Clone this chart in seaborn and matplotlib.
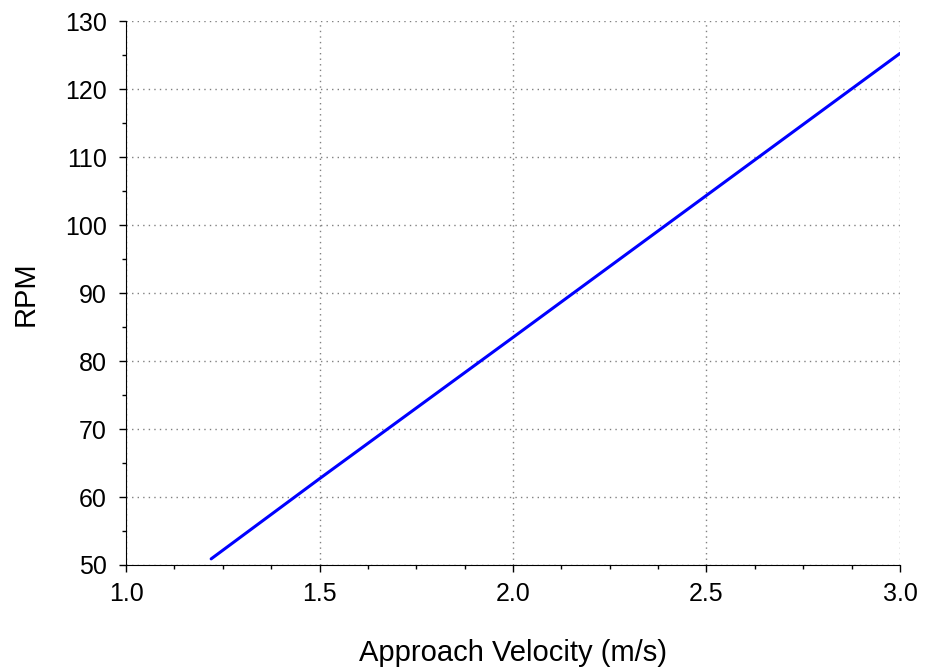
import pandas as pd
import numpy as np
import seaborn as sns
import matplotlib.pyplot as plt
from matplotlib.ticker import MultipleLocator

velocity=[1.22,1.5,2.0,2.5,3.0]
rpm=[50.9,62.7,83.5,104.4,125.3]

df=pd.DataFrame({"Approach Velocity (m/s)":velocity,"RPM":rpm})

sns.set_style("ticks")
plt.rcParams['font.family']=['Liberation Sans','DejaVu Sans']
plt.rcParams['text.color']='black'
plt.rcParams['axes.labelcolor']='black'

fig=plt.figure(figsize=(9.28,6.71),dpi=100)
ax=fig.add_axes([0.1358,0.158,0.8340,0.810])
sns.lineplot(data=df,x="Approach Velocity (m/s)",y="RPM",color="#0000ff",linewidth=2.2,ax=ax)

ax.set_xlim(1.0,3.0)
ax.set_ylim(50,130)
ax.xaxis.set_major_locator(MultipleLocator(0.5))
ax.xaxis.set_minor_locator(MultipleLocator(0.125))
ax.yaxis.set_major_locator(MultipleLocator(10))
ax.yaxis.set_minor_locator(MultipleLocator(5))
ax.xaxis.set_major_formatter(plt.FormatStrFormatter('%.1f'))
ax.tick_params(which='major',length=5,width=1,labelsize=18,direction='out',colors='black')
ax.tick_params(which='minor',length=3,width=1,direction='out',colors='black')
ax.tick_params(axis='x',which='major',pad=7)
ax.tick_params(axis='y',which='major',pad=9)
ax.grid(True,which='major',linestyle=(0,(1,3)),color='#808080',linewidth=1)
sns.despine(ax=ax)
ax.spines['left'].set_color('black')
ax.spines['bottom'].set_color('black')
ax.set_xlabel("Approach Velocity (m/s)",fontsize=21,labelpad=24,color='black')
ax.set_ylabel("RPM",fontsize=21,labelpad=18,color='black')

plt.savefig("out.png",dpi=100)
